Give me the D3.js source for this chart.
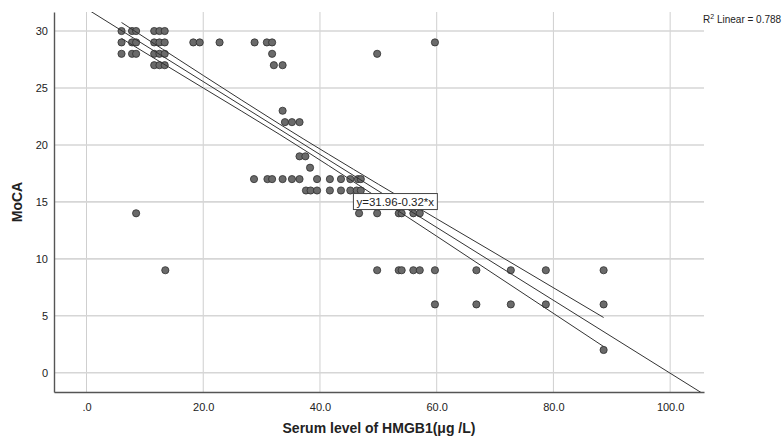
<!DOCTYPE html>
<meta charset="utf-8">
<style>
  body { margin: 0; background: #fff; }
  text { font-family: "Liberation Sans", Arial, sans-serif; fill: #222; }
  .grid-x line { stroke: #cfcfcf; stroke-width: 1px; }
  .grid-y line { stroke: #d6d6d6; stroke-width: 1.6px; }
  .dot { fill: #6a6a6a; stroke: #2e2e2e; stroke-width: 0.8px; }
  .fit { fill: none; stroke: #333; stroke-width: 1px; }
</style>
<body>
<script src="https://d3js.org/d3.v7.min.js"></script>
<script>
// HMGB1 (x) vs MoCA (y), one array per MoCA row
var hmgb1 = [
  6, 7.8, 8.5, 11.6, 12.5, 13.4,
  6, 7.8, 8.5, 11.6, 12.5, 13.4, 18.3, 19.4, 22.8, 28.8, 30.9, 31.8, 59.7,
  6, 7.8, 8.5, 11.6, 12.5, 13.4, 31.8, 49.8,
  11.6, 12.5, 13.4, 32.1, 33.6,
  33.6,
  34.0, 35.2, 36.5,
  36.5, 37.5,
  38.3,
  28.7, 31.0, 31.8, 33.6, 35.2, 36.5, 39.5, 41.7, 43.6, 45.2, 46.5, 47.0,
  37.6, 38.4, 39.5, 41.7, 43.6, 45.2, 46.3, 47.0,
  8.5, 46.7, 49.8, 53.5, 54.0, 56.0, 57.1,
  13.5, 49.8, 53.5, 54.0, 56.0, 57.1, 59.7, 66.8, 72.7, 78.7, 88.6,
  59.7, 66.8, 72.7, 78.7, 88.6,
  88.6
];
var moca = [
  30, 30, 30, 30, 30, 30,
  29, 29, 29, 29, 29, 29, 29, 29, 29, 29, 29, 29, 29,
  28, 28, 28, 28, 28, 28, 28, 28,
  27, 27, 27, 27, 27,
  23,
  22, 22, 22,
  19, 19,
  18,
  17, 17, 17, 17, 17, 17, 17, 17, 17, 17, 17, 17,
  16, 16, 16, 16, 16, 16, 16, 16,
  14, 14, 14, 14, 14, 14, 14,
  9, 9, 9, 9, 9, 9, 9, 9, 9, 9, 9,
  6, 6, 6, 6, 6,
  2
];

// fitted line and its 95% mean band, as printed /
var intercept = 31.96, slope = -0.32, r2 = 0.788;
var bandX     = [6,     20,    33,    50,    70,    88.6];
var bandUpper = [30.75, 26.10, 21.85, 16.55, 10.50, 4.85];
var bandLower = [29.35, 25.00, 20.95, 15.35, 8.60,  2.30];

var xTicks = [0, 20, 40, 60, 80, 100];
var yTicks = [0, 5, 10, 15, 20, 25, 30];

var W = 782, H = 436;
var svg = d3.select("body").append("svg")
    .attr("width", W).attr("height", H);

var x = d3.scaleLinear().domain([-5.57, 105.8]).range([54, 704]);
var y = d3.scaleLinear().domain([-1.69, 31.67]).range([392, 12]);

svg.append("clipPath").attr("id", "plot")
  .append("rect").attr("x", 54).attr("y", 12).attr("width", 650).attr("height", 380);

// gridlines
svg.append("g").attr("class", "grid-x")
  .selectAll("line").data(xTicks).enter().append("line")
    .attr("x1", d => x(d)).attr("x2", d => x(d))
    .attr("y1", y.range()[1]).attr("y2", y.range()[0]);

svg.append("g").attr("class", "grid-y")
  .selectAll("line").data(yTicks).enter().append("line")
    .attr("x1", x.range()[0]).attr("x2", x.range()[1])
    .attr("y1", d => y(d)).attr("y2", d => y(d));

// axes
var xAxis = svg.append("g")
    .attr("transform", "translate(0," + y.range()[0] + ")")
    .call(d3.axisBottom(x).tickValues(xTicks).tickSize(0).tickPadding(11)
      .tickFormat(d => d === 0 ? ".0" : d3.format(".1f")(d)));
var yAxis = svg.append("g")
    .attr("transform", "translate(" + x.range()[0] + ",0)")
    .call(d3.axisLeft(y).tickValues(yTicks).tickSize(0).tickPadding(6));

[xAxis, yAxis].forEach(function(a) {
  a.select(".domain").attr("stroke", "#555").attr("stroke-width", 1.4);
  a.selectAll("text").style("font-size", "11px").attr("fill", "#222");
});

// points
var pts = hmgb1.map((v, i) => [v, moca[i]]);
svg.append("g").selectAll("circle").data(pts).enter().append("circle")
    .attr("class", "dot")
    .attr("cx", d => x(d[0])).attr("cy", d => y(d[1])).attr("r", 3.6);

// fit line (clipped to the plot) and the band
var g = svg.append("g").attr("clip-path", "url(#plot)");
g.append("line").attr("class", "fit")
    .attr("x1", x(x.domain()[0])).attr("y1", y(intercept + slope * x.domain()[0]))
    .attr("x2", x(x.domain()[1])).attr("y2", y(intercept + slope * x.domain()[1]));

var band = d3.line().x(d => x(d[0])).y(d => y(d[1])).curve(d3.curveMonotoneX);
g.append("path").attr("class", "fit")
    .attr("d", band(bandX.map((v, i) => [v, bandUpper[i]])));
g.append("path").attr("class", "fit")
    .attr("d", band(bandX.map((v, i) => [v, bandLower[i]])));

// equation label on the line
var ex = 52.9, ey = intercept + slope * ex;
var lab = svg.append("g").attr("transform", "translate(" + x(ex) + "," + y(ey) + ")");
var eqText = lab.append("text")
    .attr("text-anchor", "middle").attr("dy", "0.35em")
    .style("font-size", "11.5px")
    .text("y=" + intercept + "-" + Math.abs(slope) + "*x");
var bb = eqText.node().getBBox();
lab.insert("rect", "text")
    .attr("x", bb.x - 3).attr("y", bb.y - 2)
    .attr("width", bb.width + 6).attr("height", bb.height + 4)
    .attr("fill", "#fff").attr("stroke", "#444").attr("stroke-width", 1);

// R² note
var rt = svg.append("text").attr("x", 703).attr("y", 23).style("font-size", "10px");
rt.append("tspan").text("R");
rt.append("tspan").attr("dy", -4).style("font-size", "7px").text("2");
rt.append("tspan").attr("dy", 4).text(" Linear = " + r2);

// axis titles
svg.append("text")
    .attr("x", 379).attr("y", 433)
    .attr("text-anchor", "middle")
    .style("font-size", "14px").style("font-weight", "bold")
    .text("Serum level of HMGB1(μg /L)");

svg.append("text")
    .attr("transform", "translate(22,202) rotate(-90)")
    .attr("text-anchor", "middle")
    .style("font-size", "14px").style("font-weight", "bold")
    .text("MoCA");
</script>
</body>
